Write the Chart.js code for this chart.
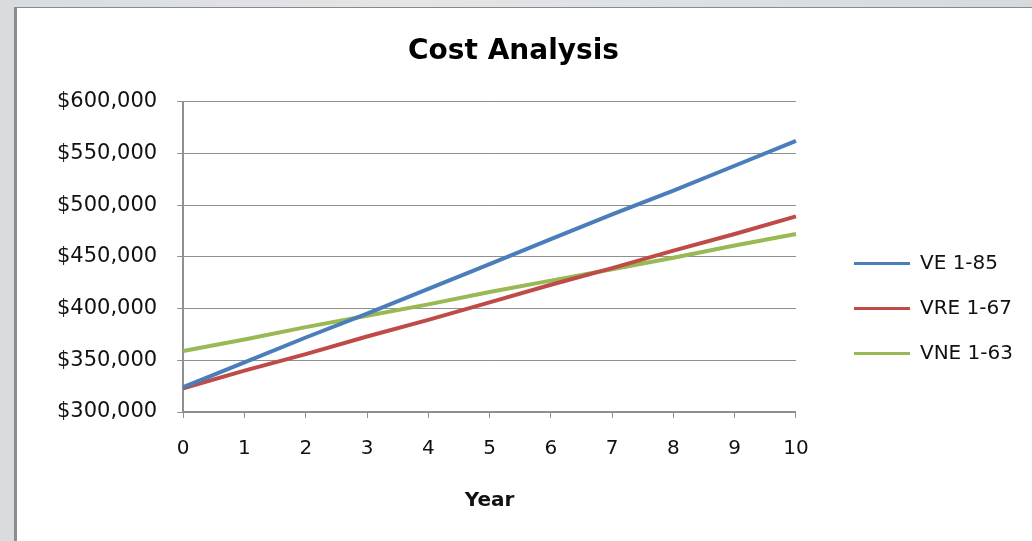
<!DOCTYPE html>
<html>
<head>
<meta charset="utf-8">
<script src="https://cdn.jsdelivr.net/npm/chart.js@4"></script>
<style>
  html, body { margin: 0; padding: 0; }
  body {
    width: 1032px; height: 541px; overflow: hidden;
    background: linear-gradient(90deg, #d9dcdf, #e3e5e7 40%, #d6dadd);
    position: relative;
  }
  #frame {
    position: absolute; left: 14px; top: 7px; right: 0; bottom: 0;
    border-left: 3px solid #8d8d8d; border-top: 1px solid #8a8a8a;
    background: #fff;
  }
  #costChart { position: absolute; left: 0; top: 0; }
</style>
</head>
<body>
<div id="frame"><canvas id="costChart" width="1015" height="533"></canvas></div>
<script>
// data
const years = ['0', '1', '2', '3', '4', '5', '6', '7', '8', '9', '10'];
const ve185  = [324000, 348000, 372000, 395000, 419000, 443000, 467000, 491000, 514000, 538000, 562000];
const vre167 = [323000, 340000, 356000, 373000, 389000, 406000, 423000, 439000, 456000, 472000, 489000];
const vne163 = [359000, 370000, 382000, 393000, 404000, 416000, 427000, 438000, 449000, 461000, 472000];

const gridGray = '#8f8f8f';

// push the legend to where it sits in the picture
const legendNudge = {
    id: 'legendNudge',
    afterLayout(chart) {
        const lg = chart.legend;
        const ca = chart.chartArea;
        const w = lg.right - lg.left;
        const h = lg.bottom - lg.top;
        lg.left = ca.right + 33;
        lg.right = lg.left + w;
        lg.top = ca.top + 127;
        lg.bottom = lg.top + h;
    }
};

const ctx = document.getElementById('costChart').getContext('2d');
const costChart = new Chart(ctx, {
    type: 'line',
    data: {
        labels: years,
        datasets: [
            { label: 'VE 1-85', data: ve185, borderColor: '#4a7ebb', backgroundColor: '#4a7ebb' },
            { label: 'VRE 1-67', data: vre167, borderColor: '#be4b48', backgroundColor: '#be4b48' },
            { label: 'VNE 1-63', data: vne163, borderColor: '#98b954', backgroundColor: '#98b954' }
        ]
    },
    options: {
        responsive: false,
        animation: false,
        elements: {
            line: { borderWidth: 4, tension: 0 },
            point: { radius: 0 }
        },
        layout: { padding: { left: 20, right: 42, top: 0, bottom: 28 } },
        plugins: {
            title: {
                display: true,
                text: 'Cost Analysis',
                color: '#000',
                font: { family: 'DejaVu Sans', weight: 'bold', size: 28 },
                padding: { top: 27, bottom: 33 }
            },
            legend: {
                position: 'right',
                align: 'start',
                labels: {
                    color: '#111',
                    font: { family: 'DejaVu Sans', size: 20 },
                    boxWidth: 56,
                    boxHeight: 3,
                    padding: 25,
                    generateLabels: (chart) =>
                        Chart.defaults.plugins.legend.labels.generateLabels(chart)
                            .map(l => ({ ...l, lineWidth: 0 }))
                }
            },
            tooltip: { enabled: false }
        },
        scales: {
            x: {
                offset: false,
                grid: { drawOnChartArea: false, color: gridGray, tickLength: 6 },
                border: { color: gridGray, width: 2 },
                ticks: { color: '#111', font: { family: 'DejaVu Sans', size: 20 }, padding: 19, maxRotation: 0 },
                title: {
                    display: true,
                    text: 'Year',
                    color: '#111',
                    font: { family: 'DejaVu Sans', weight: 'bold', size: 20 },
                    padding: { top: 9, bottom: 0 }
                }
            },
            y: {
                min: 300000,
                max: 600000,
                grid: { color: gridGray, tickLength: 6 },
                border: { color: gridGray, width: 2 },
                ticks: {
                    stepSize: 50000,
                    color: '#111',
                    padding: 20,
                    font: { family: 'DejaVu Sans', size: 21 },
                    callback: v => '$' + v.toLocaleString('en-US')
                }
            }
        }
    },
    plugins: [legendNudge]
});
</script>
</body>
</html>
